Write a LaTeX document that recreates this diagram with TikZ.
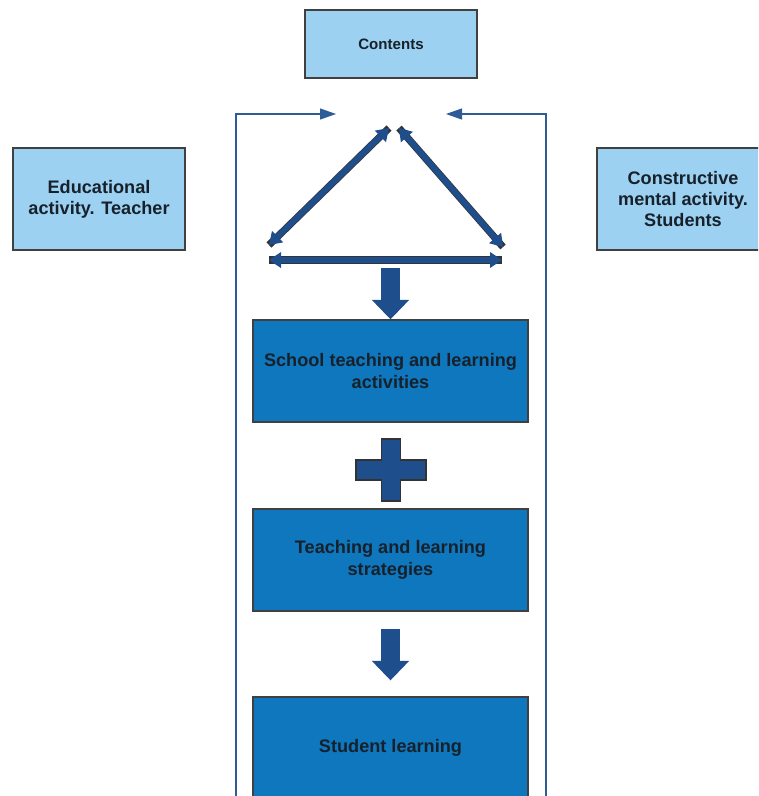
\documentclass[tikz,border=0pt]{standalone}
\usepackage{fontspec}
\setmainfont{Liberation Sans}
\usetikzlibrary{arrows.meta}

\definecolor{lightbox}{HTML}{9DD1F1}
\definecolor{midbox}{HTML}{0E77BD}
\definecolor{arrowblue}{HTML}{1F4E8C}
\definecolor{loopblue}{HTML}{2D5C98}
\definecolor{inktext}{HTML}{17212B}

\tikzstyle{topic}=[rectangle, draw=black!75, line width=1.1pt, fill=lightbox, text=inktext, align=center, font=\fontsize{13.6}{16}\selectfont\bfseries, minimum width=129pt, minimum height=76.5pt]
\tikzstyle{stage}=[rectangle, draw=black!75, line width=1.1pt, fill=midbox, text=inktext, align=center, font=\fontsize{13.6}{16.5}\selectfont\bfseries, minimum width=206pt, minimum height=76.5pt]
\tikzstyle{twoway}=[{Triangle[length=9pt,width=12pt,line width=0pt]}-{Triangle[length=9pt,width=12pt,line width=0pt]}, line width=4.3pt, draw=arrowblue, preaction={draw=black!80, line width=5.4pt, -}]
\tikzstyle{blockarrow}=[-{Triangle[length=14.5pt,width=28pt,line width=0pt]}, line width=14.5pt, draw=arrowblue]
\tikzstyle{loopline}=[-{Triangle[length=12pt,width=8.5pt,line width=0pt]}, line width=1.6pt, draw=loopblue]

\begin{document}
\begin{tikzpicture}[x=0.75pt, y=-0.75pt]
			\clip (0, 0) rectangle (758, 796);

		    \node (contents) at (391, 44) [topic, minimum height=51pt, font=\fontsize{11.3}{13}\selectfont\bfseries] {Contents};
		    \node (teacher) at (99, 199) [topic] {Educational\\activity. Teacher};
		    \node (students) at (683, 199) [topic] {Constructive\\mental activity.\\Students};

		    \node (activities) at (390.5, 371) [stage] {School teaching and learning\\activities};
		    \node (strategies) at (390.5, 560) [stage] {Teaching and learning\\strategies};
		    \node (learning) at (390.5, 748) [stage] {Student learning};

			\coordinate (apexL) at (389, 128);
			\coordinate (apexR) at (399, 128);
			\coordinate (baseL) at (269, 245);
			\coordinate (baseR) at (503, 247);
			\coordinate (lineL) at (269, 260);
			\coordinate (lineR) at (502, 260);
			\coordinate (joinTop) at (390.5, 268);
			\coordinate (plus) at (391, 470);
			\coordinate (loopL) at (236, 796);
			\coordinate (loopR) at (546, 796);
			\coordinate (tipL) at (336, 114);
			\coordinate (tipR) at (446, 114);

			\draw[twoway] (baseL) -- (apexL);
			\draw[twoway] (apexR) -- (baseR);
			\draw[twoway] (lineL) -- (lineR);

			\draw[blockarrow] (joinTop) -- (activities.north);
			\draw[blockarrow] ([yshift=-12.75pt]strategies.south) -- ([yshift=12pt]learning.north);

			\draw[fill=arrowblue, draw=black!80, line width=0.8pt] (plus) ++(-35, -10) -- ++(25.5, 0) -- ++(0, -21) -- ++(19, 0) -- ++(0, 21) -- ++(25.5, 0) -- ++(0, 20) -- ++(-25.5, 0) -- ++(0, 21) -- ++(-19, 0) -- ++(0, -21) -- ++(-25.5, 0) -- cycle;

			\draw[loopline] (loopL) |- (tipL);
			\draw[loopline] (loopR) |- (tipR);
		\end{tikzpicture}
\end{document}
